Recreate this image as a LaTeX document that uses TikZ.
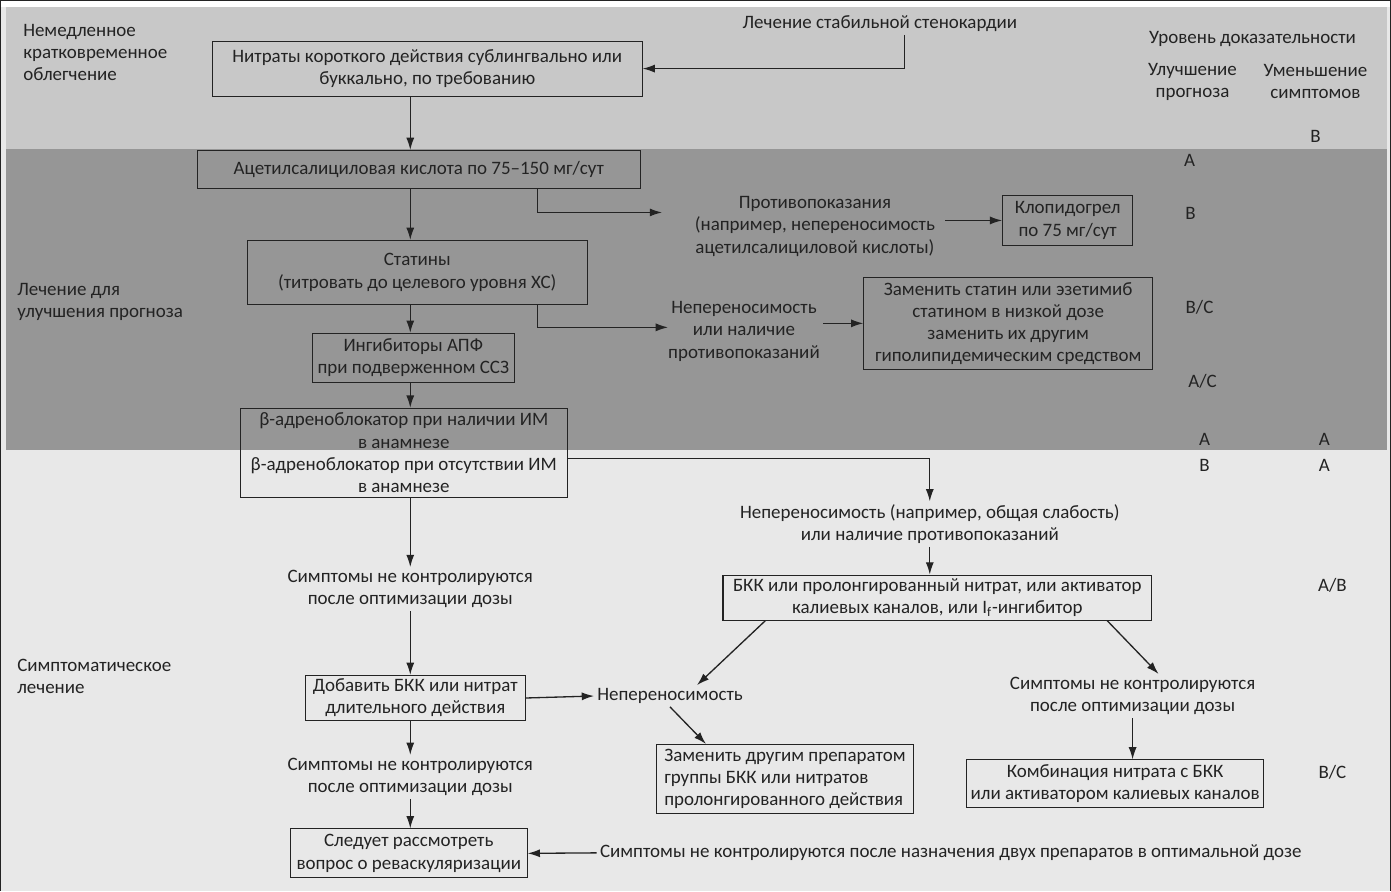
\documentclass[tikz,border=0pt]{standalone}
\usepackage{fontspec}
\setmainfont{Carlito}
\usetikzlibrary{arrows.meta}
\definecolor{ink}{RGB}{35,35,35}
\definecolor{bandtop}{RGB}{200,200,200}
\definecolor{bandmid}{RGB}{150,150,150}
\definecolor{paper}{RGB}{232,232,232}
\newcommand{\fsz}{\fontsize{10.8}{12.6}\selectfont}

\begin{document}
\begin{tikzpicture}[x=0.02cm,y=-0.02cm,>={Latex[length=7pt,width=4.6pt]},
   every node/.style={text=ink,font=\fsz,inner sep=0pt},
   box/.style 2 args={draw=ink,line width=0.6pt,align=center,inner sep=2pt,
      minimum width=#1*0.02cm,minimum height=#2*0.02cm},
   txt/.style={align=center,inner sep=1.5pt},
   lbl/.style={align=left,anchor=west},
   every path/.style={draw=ink,line width=0.75pt}]
   \useasboundingbox (0,0) rectangle (1391,891);
   % background bands
   \fill[paper,draw=none] (0,0) rectangle (1391,891);
   \fill[white,draw=none] (0,0) rectangle (1391,6);
   \fill[bandtop,draw=none] (5,6) rectangle (1388,148);
   \fill[bandmid,draw=none] (5,148) rectangle (1388,450);

   % left column labels
   \node[lbl] (lab1) at (22,52) {Немедленное\\кратковременное\\облегчение};
   \node[lbl] (lab2) at (16,302) {Лечение для\\улучшения прогноза};
   \node[lbl] (lab3) at (16,676) {Симптоматическое\\лечение};

   % evidence levels
   \node[txt] (lev) at (1253,38) {Уровень доказательности};
   \node[txt] (prog) at (1193,81) {Улучшение\\прогноза};
   \node[txt] (symp) at (1316,81) {Уменьшение\\симптомов};
   \foreach \gx/\gy/\g [count=\i] in {1316/136/B,1190/160/A,1191/213/B,
      1200/307/{B/C},1203/381/{A/C},1205/439/A,1325/439/A,1205/465/B,
      1325/465/A,1333/585/{A/B},1333/772/{B/C}}
      \node (g\i) at (\gx,\gy) {\g};

   % main chain
   \node[txt] (start) at (880,23) {Лечение стабильной стенокардии};
   \node[box={430}{55}] (nitr) at (427,68) {Нитраты короткого действия сублингвально или\\буккально, по требованию};
   \node[box={443}{38}] (asp) at (418.5,169) {Ацетилсалициловая кислота по 75–150 мг/сут};
   \node[box={340}{64}] (stat) at (417,272) {Статины\\(титровать до целевого уровня ХС)};
   \node[box={202}{49}] (apf) at (413,357.5) {Ингибиторы АПФ\\при подверженном ССЗ};
   \node[box={327}{89}] (beta) at (403.5,452.5) {β-адреноблокатор при наличии ИМ\\в анамнезе\\β-адреноблокатор при отсутствии ИМ\\в анамнезе};
   \node[txt] (sym1) at (410,589) {Симптомы не контролируются\\после оптимизации дозы};
   \node[box={220}{45}] (add) at (415,698) {Добавить БКК или нитрат\\длительного действия};
   \node[txt] (sym3) at (410,777) {Симптомы не контролируются\\после оптимизации дозы};
   \node[box={237}{49}] (revasc) at (408.5,853.5) {Следует рассмотреть\\вопрос о реваскуляризации};

   % side branches
   \node[txt] (contra) at (815,226) {Противопоказания\\(например, непереносимость\\ацетилсалициловой кислоты)};
   \node[box={130}{50}] (clop) at (1068,220) {Клопидогрел\\по 75 мг/сут};
   \node[txt] (intol1) at (744,331) {Непереносимость\\или наличие\\противопоказаний};
   \node[box={289}{92}] (zam) at (1008.5,323) {Заменить статин или эзетимиб\\статином в низкой дозе\\заменить их другим\\гиполипидемическим средством};
   \node[txt] (intol2) at (930,524) {Непереносимость (например, общая слабость)\\или наличие противопоказаний};
   \node[box={429}{45}] (bkk) at (937.5,597.5) {БКК или пролонгированный нитрат, или активатор\\калиевых каналов, или I\textsubscript{f}-ингибитор};
   \node[txt] (intol3) at (670,696) {Непереносимость};
   \node[box={257}{69},align=left] (repl) at (785,779) {Заменить другим препаратом\\группы БКК или нитратов\\пролонгированного действия};
   \node[txt] (sym2) at (1133,696) {Симптомы не контролируются\\после оптимизации дозы};
   \node[box={297}{48}] (comb) at (1115.5,784) {Комбинация нитрата с БКК\\или активатором калиевых каналов};
   \node[txt] (sym4) at (951,853) {Симптомы не контролируются после назначения двух препаратов в оптимальной дозе};

   % connectors
   \coordinate (ax) at (410,0);
   \coordinate (st) at (905,0);
   \draw[->] (start.south -| st) |- (nitr.east);
   \draw[->] (nitr.south -| ax) -- (asp.north -| ax);
   \draw[->] (asp.south -| ax) -- (stat.north -| ax);
   \draw[->] (stat.south -| ax) -- (apf.north -| ax);
   \draw[->] (apf.south -| ax) -- (beta.north -| ax);
   \draw[->] (beta.south -| ax) -- (sym1.north -| ax);
   \draw[->] (sym1.south -| ax) -- (add.north -| ax);
   \draw[->] (add.south -| ax) -- (sym3.north -| ax);
   \draw[->] (sym3.south -| ax) -- (revasc.north -| ax);

   \coordinate (c1) at (537,212);
   \coordinate (c1e) at (662,212);
   \draw[->] (asp.south -| c1) -- (c1) -- (c1e);
   \draw[->] ([xshift=0.14cm]contra.east |- clop.west) -- (clop.west);
   \coordinate (c2) at (537,327);
   \coordinate (c2e) at (668,327);
   \draw[->] (stat.south -| c2) -- (c2) -- (c2e);
   \draw[->] (intol1.east |- zam.west) -- (zam.west);
   \coordinate (c3) at (930,458);
   \draw[->] (beta.east |- c3) -| (intol2.north);
   \draw[->] (intol2.south) -- (intol2.south |- bkk.north);
   \draw[->] ([xshift=0.86cm]bkk.south west) -- ([xshift=0.54cm]intol3.north);
   \draw[->] (add.east) -- (intol3.west);
   \draw[->] (intol3.south) -- ([xshift=1cm]repl.north west);
   \draw[->] ([xshift=-0.9cm]bkk.south east) -- ([xshift=0.52cm]sym2.north);
   \draw[->] (sym2.south) -- (sym2.south |- comb.north);
   \draw[->] (sym4.west) -- (revasc.east);
\end{tikzpicture}
\end{document}
